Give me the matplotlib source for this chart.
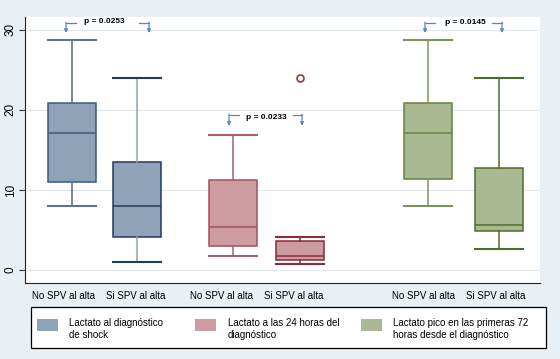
import matplotlib
matplotlib.use("Agg")
import matplotlib.pyplot as plt
from matplotlib.patches import Rectangle

plt.rcParams['font.family'] = ['Liberation Sans', 'DejaVu Sans']

# ---- data ----
group_labels = ["No SPV al alta", "Si SPV al alta",
                "No SPV al alta", "Si SPV al alta",
                "No SPV al alta", "Si SPV al alta"]
whislo = [8.0, 1.0, 1.7, 0.7, 8.0, 2.6]
q1     = [11.0, 4.1, 3.0, 1.2, 11.4, 4.9]
med    = [17.1, 8.0, 5.4, 1.7, 17.1, 5.6]
q3     = [20.8, 13.5, 11.3, 3.6, 20.8, 12.7]
whishi = [28.75, 24.0, 16.9, 4.1, 28.75, 24.0]
fliers = [[], [], [], [24.0], [], []]
series_names = ["Lactato al diagnóstico\nde shock",
                "Lactato a las 24 horas del\ndiagnóstico",
                "Lactato pico en las primeras 72\nhoras desde el diagnóstico"]
p_values = ["p = 0.0253", "p = 0.0233", "p = 0.0145"]
y_ticks = [0, 10, 20, 30]

# ---- styles ----
fills = ['#8fa3b8', '#8fa3b8', '#cd9ca1', '#cd9ca1', '#a9ba93', '#a9ba93']
edges = ['#3f5b75', '#1f3c5a', '#a5505c', '#8a2a3a', '#64823f', '#4f6c2b']
caps_c = ['#5a7690', '#1f3c5a', '#a5606a', '#8a2a3a', '#7d9460', '#4f6c2b']
whisk = ['#4f6b85', '#8ea4b8', '#a5606a', '#8a2a3a', '#7d9460', '#4f6c2b']
positions = [72, 137, 233, 300, 428, 499]
label_pos = [63, 136, 222, 294, 424, 496]
legend_fill = ['#8fa3b8', '#cd9ca1', '#a9ba93']
W, H = 560, 359

fig = plt.figure(figsize=(W / 100, H / 100), dpi=100, facecolor='#e9eff3')
ax = fig.add_axes([25 / W, 1 - 283 / H, (540 - 25) / W, (283 - 17) / H])
ax.set_facecolor('white')

stats = []
for i in range(6):
    stats.append(dict(whislo=whislo[i], q1=q1[i], med=med[i], q3=q3[i],
                      whishi=whishi[i], fliers=fliers[i]))

for i in range(6):
    ax.bxp([stats[i]], positions=[positions[i]], widths=48, patch_artist=True,
           showfliers=True,
           boxprops=dict(facecolor=fills[i], edgecolor=edges[i], linewidth=1.1),
           medianprops=dict(color=edges[i], linewidth=1.1),
           whiskerprops=dict(color=whisk[i], linewidth=1.1),
           capprops=dict(color=caps_c[i], linewidth=1.5),
           capwidths=48,
           flierprops=dict(marker='o', markerfacecolor='none',
                           markeredgecolor='#a3313f', markersize=5,
                           markeredgewidth=1.2),
           zorder=3)

ax.set_xlim(25, 540)
ax.set_ylim(-1.625, 31.6)
ax.set_yticks(y_ticks)
ax.set_yticklabels([str(t) for t in y_ticks], rotation=90, va='center',
                   fontsize=8.5)
ax.set_xticks(label_pos)
ax.set_xticklabels(group_labels, fontsize=7)
ax.tick_params(axis='x', length=0, pad=6)
ax.tick_params(axis='y', length=4, width=0.8, pad=2, color='#333333')
ax.yaxis.grid(True, color='#e3e8ec', linewidth=0.8)
ax.set_axisbelow(True)
for s in ['top', 'right']:
    ax.spines[s].set_visible(False)
ax.spines['left'].set_color('#222222')
ax.spines['bottom'].set_color('#222222')
ax.spines['left'].set_linewidth(0.8)
ax.spines['bottom'].set_linewidth(0.8)

# ---- p-value brackets ----
arrow_c = '#5a86c0'
brackets = [
    dict(text_x=104, text_y=31.0, y=30.9, y2=29.6, l=(76, 66), r=(139, 149)),
    dict(text_x=266, text_y=19.0, y=19.4, y2=18.0, l=(239, 229), r=(293, 302)),
    dict(text_x=465, text_y=30.9, y=30.9, y2=29.6, l=(435, 425), r=(492, 502)),
]
for b, p in zip(brackets, p_values):
    ax.text(b['text_x'], b['text_y'], p, ha='center', va='center',
            fontsize=6, fontweight='bold', zorder=5)
    for (xa, xb) in (b['l'], b['r']):
        ax.plot([xa, xb], [b['y'], b['y']], color=arrow_c, lw=0.9,
                clip_on=False, zorder=5)
        ax.annotate('', xy=(xb, b['y2']), xytext=(xb, b['y'] + 0.05),
                    arrowprops=dict(arrowstyle='-|>', color=arrow_c, lw=0.9,
                                    mutation_scale=5, shrinkA=0, shrinkB=0),
                    annotation_clip=False, zorder=5)

# ---- legend ----
fig.add_artist(Rectangle((31 / W, 1 - 348 / H), (546 - 31) / W, (348 - 307) / H,
                         transform=fig.transFigure, facecolor='white',
                         edgecolor='black', linewidth=0.9))
patch_x = [37, 195, 361]
text_x = [69, 228, 393]
for i in range(3):
    fig.add_artist(Rectangle((patch_x[i] / W, 1 - 331 / H), 21 / W, 12 / H,
                             transform=fig.transFigure,
                             facecolor=legend_fill[i], edgecolor='none'))
    fig.text(text_x[i] / W, 1 - 328.5 / H, series_names[i], fontsize=7,
             va='center', ha='left', linespacing=1.25)

fig.savefig('out.png', dpi=100, facecolor=fig.get_facecolor())
